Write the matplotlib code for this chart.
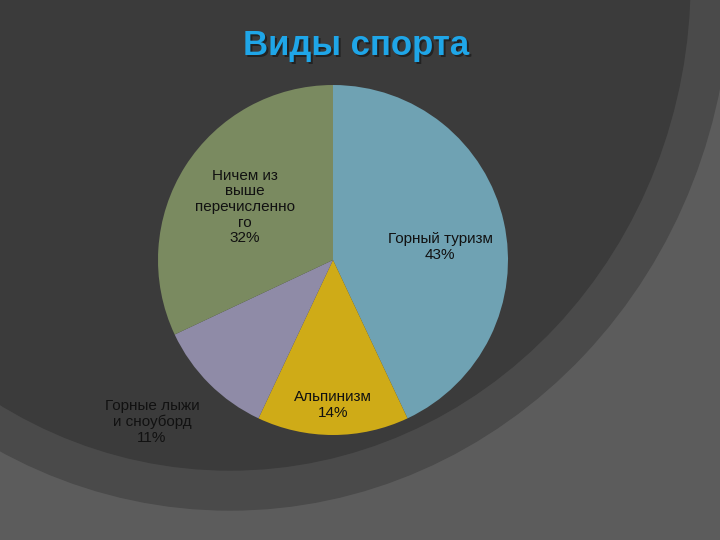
import matplotlib.pyplot as plt
from matplotlib.patches import Ellipse

plt.rcParams['font.family'] = ['Liberation Sans', 'DejaVu Sans']

labels = ['Горный туризм\n43%', 'Альпинизм\n14%', 'Горные лыжи\nи сноуборд\n11%',
          'Ничем из\nвыше\nперечисленно\nго\n32%']
values = [43, 14, 11, 32]
colors = ['#6fa2b3', '#cfab17', '#8f8ba7', '#7a8a60']
# label positions in pixels (x, y from top)
label_pos = [(440, 247), (333, 405), (152, 422), (245, 207)]

fig = plt.figure(figsize=(7.2, 5.4), dpi=100)
fig.patch.set_facecolor('#5c5c5c')
ax = fig.add_axes([0, 0, 1, 1])

# background rings of the slide theme
ax.add_patch(Ellipse((230, 560), 1000, 1060, color='#4a4a4a', zorder=0))
ax.add_patch(Ellipse((230, 560), 920, 980, color='#3b3b3b', zorder=0))

ax.pie(values, colors=colors, startangle=90, counterclock=False,
       center=(333, 280), radius=175, wedgeprops=dict(linewidth=0))

# pie() resets limits, so set them afterwards
ax.set_xlim(0, 720)
ax.set_ylim(0, 540)
ax.set_aspect('equal')
ax.axis('off')

for lab, (x, y) in zip(labels, label_pos):
    ax.text(x, 540 - y, lab, ha='center', va='center', fontsize=11,
            color='#111111', linespacing=1.15)

ax.text(358, 493, 'Виды спорта', ha='center', va='center', fontsize=25,
        fontweight='bold', color='#222222')
ax.text(356, 495, 'Виды спорта', ha='center', va='center', fontsize=25,
        fontweight='bold', color='#1fa6e8')

fig.savefig('out.png', dpi=100, facecolor=fig.get_facecolor())
